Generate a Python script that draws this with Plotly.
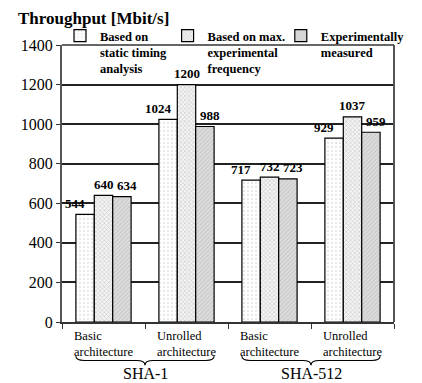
import plotly.graph_objects as go

categories = ["Basic architecture (SHA-1)", "Unrolled architecture (SHA-1)",
              "Basic architecture (SHA-512)", "Unrolled architecture (SHA-512)"]
cat_labels = ["Basic<br>architecture", "Unrolled<br>architecture",
              "Basic<br>architecture", "Unrolled<br>architecture"]
groups = ["SHA-1", "SHA-512"]
series_names = ["Based on<br>static timing<br>analysis",
                "Based on max.<br>experimental<br>frequency",
                "Experimentally<br>measured"]
static_timing = [544, 1024, 717, 929]
max_experimental = [640, 1200, 732, 1037]
measured = [634, 988, 723, 959]
y_ticks = [0, 200, 400, 600, 800, 1000, 1200, 1400]

serif = "Times New Roman, Liberation Serif, DejaVu Serif, serif"
patterns = [
    dict(shape=".", fgcolor="#d0d0d0", bgcolor="#ffffff", size=4, solidity=0.25),
    dict(shape="x", fgcolor="#a8a8a8", bgcolor="#f4f4f4", size=3, solidity=0.4),
    dict(shape="/", fgcolor="#b4b4b4", bgcolor="#dedede", size=3, solidity=0.4),
]
legend_ids = ["legend", "legend2", "legend3"]
label_xshift = [-9, 0, 4]
n_series = 3
bargap = 0.335
bar_px = (1 - bargap) / n_series * 343 / len(categories)

fig = go.Figure()
annotations = []
all_series = [static_timing, max_experimental, measured]
for j, (name, vals, pat, lg) in enumerate(zip(series_names, all_series, patterns, legend_ids)):
    fig.add_trace(go.Bar(
        x=categories, y=vals, name=name, legend=lg,
        marker=dict(color="white", pattern=pat, line=dict(color="black", width=1.2)),
    ))
    for c, v in zip(categories, vals):
        annotations.append(dict(
            text=f"<b>{v}</b>", x=c, y=v, xref="x", yref="y",
            xshift=(j - 1) * bar_px + label_xshift[j], yshift=11,
            xanchor="center", yanchor="middle", showarrow=False,
            font=dict(family=serif, size=13, color="black")))

annotations.append(dict(text="<b>Throughput [Mbit/s]</b>", xref="paper", yref="paper",
                        x=-0.14, y=1.094, xanchor="left", yanchor="middle", showarrow=False,
                        font=dict(family=serif, size=17, color="black")))
for c, lab in zip(categories, cat_labels):
    annotations.append(dict(text=lab, x=c, xref="x", yref="paper", y=-0.018,
                            xanchor="center", yanchor="top", align="left", showarrow=False,
                            font=dict(family=serif, size=12.5, color="black")))

shapes = []
n = len(categories)
half = (1 - bargap) / 2
for gi, g in enumerate(groups):
    i0, i1 = 2 * gi, 2 * gi + 1
    xa = (i0 - half + 0.5) / n
    xb = (i1 + half + 0.5) / n
    xc = (xa + xb) / 2
    ytop, ymid, ybot = -0.124, -0.139, -0.156
    r = 0.025
    path = (f"M {xa},{ytop} Q {xa},{ymid} {xa + r},{ymid} L {xc - r},{ymid} "
            f"Q {xc},{ymid} {xc},{ybot} Q {xc},{ymid} {xc + r},{ymid} "
            f"L {xb - r},{ymid} Q {xb},{ymid} {xb},{ytop}")
    shapes.append(dict(type="path", path=path, xref="paper", yref="paper",
                       line=dict(color="black", width=1.2)))
    annotations.append(dict(text=g, xref="paper", yref="paper", x=xc, y=-0.186,
                            xanchor="center", yanchor="middle", showarrow=False,
                            font=dict(family=serif, size=16, color="black")))

# right border
shapes.append(dict(type="line", xref="paper", yref="paper", x0=1, x1=1, y0=0, y1=1,
                   line=dict(color="#555555", width=2)))
# top border
shapes.append(dict(type="line", xref="paper", yref="paper", x0=0, x1=1, y0=1, y1=1,
                   line=dict(color="#333333", width=1.5)))

leg_common = dict(orientation="v", xanchor="left", yanchor="top", valign="top",
                  bgcolor="rgba(0,0,0,0)", borderwidth=0,
                  font=dict(family=serif, size=12.5, color="black", weight="bold"))
legend_x = [-0.006, 0.318, 0.659]
legend_y = 1.0866

fig.update_layout(
    width=414, height=375,
    margin=dict(l=54, r=17, t=37, b=61),
    paper_bgcolor="white", plot_bgcolor="white",
    barmode="group", bargap=bargap, bargroupgap=0,
    font=dict(family=serif, color="black"),
    showlegend=True,
    legend=dict(x=legend_x[0], y=legend_y, **leg_common),
    legend2=dict(x=legend_x[1], y=legend_y, **leg_common),
    legend3=dict(x=legend_x[2], y=legend_y, **leg_common),
    xaxis=dict(showticklabels=False, ticks="outside", ticklen=5, tickcolor="#333",
               tickson="boundaries", showline=True, linecolor="#333", linewidth=2,
               showgrid=False),
    yaxis=dict(range=[0, 1400], tickvals=y_ticks, ticks="outside", ticklen=4,
               tickcolor="#333", showline=True, linecolor="#555555", linewidth=2,
               showgrid=True, gridcolor="#222222", gridwidth=1.5, zeroline=False,
               tickfont=dict(family=serif, size=16, color="black")),
    annotations=annotations, shapes=shapes,
)

fig.write_html("out.html")
